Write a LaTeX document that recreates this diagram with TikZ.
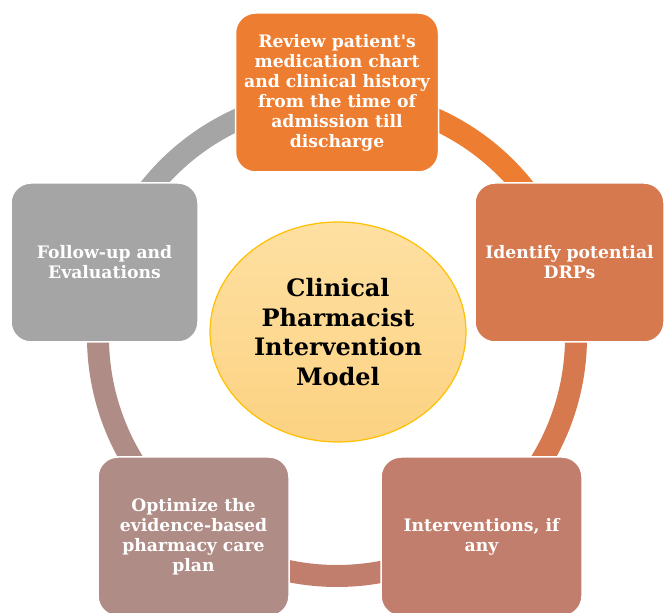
\documentclass[tikz,border=0pt]{standalone}
\usepackage{fontspec}
\setmainfont{DejaVu Serif}
\usepackage{tikz}
\usetikzlibrary{shapes.geometric}

\definecolor{stepA}{HTML}{ED7D31}
\definecolor{stepB}{HTML}{D6794F}
\definecolor{stepC}{HTML}{C27E6D}
\definecolor{stepD}{HTML}{B08C86}
\definecolor{stepE}{HTML}{A5A5A5}
\definecolor{hubtop}{HTML}{FEE0A2}
\definecolor{hubbot}{HTML}{FCD282}
\definecolor{hubline}{HTML}{FFC000}

\tikzset{
  stepbox/.style={rectangle,rounded corners=20pt,draw=white,line width=1.5pt,
    minimum height=159pt,inner sep=2pt,align=center,text=white,
    font=\bfseries\fontsize{17.2}{20}\selectfont},
  ringarc/.style={line width=22pt},
  hub/.style={ellipse,draw=hubline,line width=1.2pt,top color=hubtop,bottom color=hubbot,
    minimum width=256pt,minimum height=220pt,align=center,
    font=\bfseries\fontsize{24}{29.5}\selectfont}
}

\begin{document}
\begin{tikzpicture}[x=1pt,y=1pt]

\useasboundingbox (0,0) rectangle (664,613);

\coordinate (ctr) at (337,276);

% the ring, one arc per step, coloured like the step it leaves
\draw[ringarc,stepA] (ctr) ++(90:239pt) arc (90:18:239pt);
\draw[ringarc,stepB] (ctr) ++(18:239pt) arc (18:-54:239pt);
\draw[ringarc,stepC] (ctr) ++(-54:239pt) arc (-54:-126:239pt);
\draw[ringarc,stepD] (ctr) ++(-126:239pt) arc (-126:-198:239pt);
\draw[ringarc,stepE] (ctr) ++(162:239pt) arc (162:90:239pt);

% the five steps
\node (s1) [stepbox,fill=stepA,minimum width=203pt] at (337,520.5) {Review patient\textquotesingle s\\medication chart\\and clinical history\\from the time of\\admission till\\discharge};
\node (s2) [stepbox,fill=stepB,minimum width=189pt] at (569.5,350.5) {Identify potential\\DRPs};
\node (s3) [stepbox,fill=stepC,minimum width=201pt] at (481.5,76.5) {Interventions, if\\any};
\node (s4) [stepbox,fill=stepD,minimum width=191pt] at (193.5,76.5) {Optimize the\\evidence-based\\pharmacy care\\plan};
\node (s5) [stepbox,fill=stepE,minimum width=187pt] at (104.5,350.5) {Follow-up and\\Evaluations};

% centre
\node (hub) [hub] at (338,281) {Clinical\\Pharmacist\\Intervention\\Model};

\end{tikzpicture}
\end{document}
